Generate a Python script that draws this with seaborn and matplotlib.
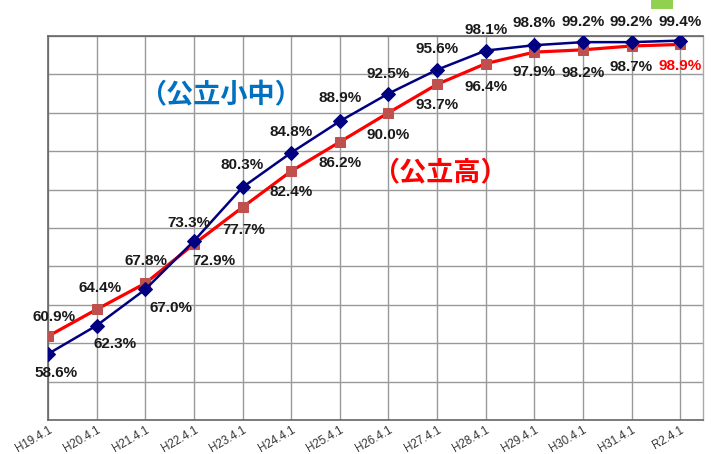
import matplotlib
matplotlib.use("Agg")
import matplotlib.pyplot as plt
import matplotlib.patches as mpatches
import seaborn as sns
import pandas as pd

# ---- data ----
dates = ["H19.4.1", "H20.4.1", "H21.4.1", "H22.4.1", "H23.4.1", "H24.4.1", "H25.4.1",
         "H26.4.1", "H27.4.1", "H28.4.1", "H29.4.1", "H30.4.1", "H31.4.1", "R2.4.1"]
shochu = [58.6, 62.3, 67.0, 73.3, 80.3, 84.8, 88.9, 92.5, 95.6, 98.1, 98.8, 99.2, 99.2, 99.4]
koko = [60.9, 64.4, 67.8, 72.9, 77.7, 82.4, 86.2, 90.0, 93.7, 96.4, 97.9, 98.2, 98.7, 98.9]
series_names = ["（公立小中）", "（公立高）"]

# label offsets (pixels)
off_shochu = [(8, -19), (18, -18), (26, -19), (-5, 18), (0, 22), (0, 21), (0, 23),
              (0, 20), (0, 21), (0, 21), (0, 22), (0, 20), (0, 20), (0, 19)]
off_koko = [(6, 19), (3, 21), (1, 22), (20, -17), (1, -23), (0, -21), (0, -21),
            (0, -22), (0, -21), (0, -23), (0, -20), (0, -23), (0, -21), (0, -22)]

sns.set_style("white")
plt.rcParams['font.family'] = ['Liberation Sans', 'Noto Sans CJK JP', 'DejaVu Sans']

df = pd.DataFrame({"x": list(range(len(dates))) * 2,
                   "v": shochu + koko,
                   "s": ["a"] * len(dates) + ["b"] * len(dates)})

fig = plt.figure(figsize=(7.11, 4.54), dpi=100)
ax = fig.add_axes([48 / 711, 34 / 454, 655 / 711, 384 / 454])

sns.lineplot(data=df[df.s == "b"], x="x", y="v", ax=ax, color="#FF0000", linewidth=2.3,
             marker="s", markersize=7, markerfacecolor="#C0504D", markeredgecolor="#C0504D",
             legend=False, zorder=3)
sns.lineplot(data=df[df.s == "a"], x="x", y="v", ax=ax, color="#000080", linewidth=1.8,
             marker="D", markersize=7, markerfacecolor="#000080", markeredgecolor="#000080",
             legend=False, zorder=4)

ax.set_xlim(0, 13.47)
ax.set_ylim(50, 100)
ax.set_xticks(range(len(dates)))
ax.set_xticklabels(dates, rotation=30, ha="right", rotation_mode="anchor",
                   fontsize=8.3, color="#333333")
ax.tick_params(axis="x", length=0, pad=3)
ax.set_yticks(range(50, 101, 5))
ax.set_yticklabels([])
ax.tick_params(axis="y", length=0)
ax.set_xlabel("")
ax.set_ylabel("")
ax.grid(True, color="#999999", linewidth=1.0)
ax.set_axisbelow(True)
for side in ["left", "bottom", "top"]:
    ax.spines[side].set_color("#666666")
    ax.spines[side].set_linewidth(1.2)
ax.spines["right"].set_color("#aaaaaa")
ax.spines["right"].set_linewidth(1.0)

for i, (v, o) in enumerate(zip(shochu, off_shochu)):
    ax.annotate(f"{v:.1f}%", (i, v), xytext=o, textcoords="offset pixels",
                ha="center", va="center", fontsize=11, fontweight="bold",
                color="#1a1a1a", annotation_clip=False, zorder=5)
for i, (v, o) in enumerate(zip(koko, off_koko)):
    c = "#FF0000" if i == len(koko) - 1 else "#1a1a1a"
    ax.annotate(f"{v:.1f}%", (i, v), xytext=o, textcoords="offset pixels",
                ha="center", va="center", fontsize=11, fontweight="bold",
                color=c, annotation_clip=False, zorder=5)

cjk = ['Noto Sans CJK JP', 'DejaVu Sans']
fig.text(220 / 711, 1 - 95 / 454, series_names[0], ha="center", va="center",
         fontsize=19.5, fontweight="bold", color="#0070C0", family=cjk)
fig.text(440 / 711, 1 - 172 / 454, series_names[1], ha="center", va="center",
         fontsize=19.5, fontweight="bold", color="#FF0000", family=cjk)

fig.patches.append(mpatches.Rectangle((651 / 711, 1 - 9 / 454), 22 / 711, 9 / 454,
                                      transform=fig.transFigure, facecolor="#92D050",
                                      edgecolor="none"))

fig.savefig("out.png", dpi=100, facecolor="white")
